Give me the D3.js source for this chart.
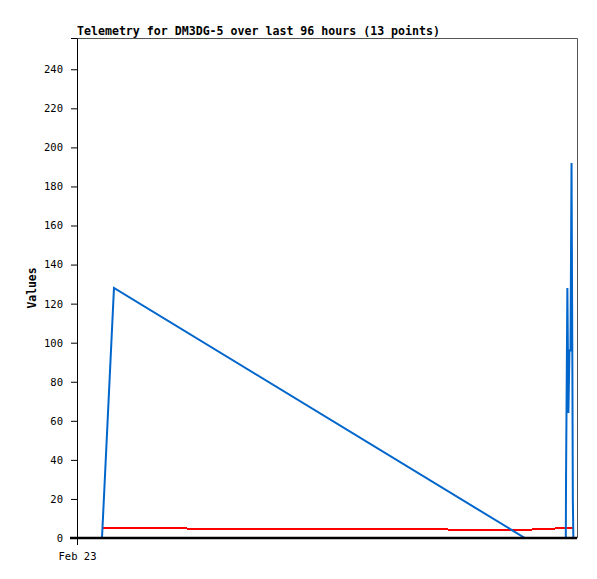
<!DOCTYPE html><html><head><meta charset="UTF-8"><script src="https://d3js.org/d3.v7.min.js"></script><style>
            body { margin: 0; background: #fff; }
            #chart { width: 597px; height: 579px; font-family: "DejaVu Sans Mono", monospace; }
            .title { font-size: 11.6px; font-weight: bold; }
            .axis text { font-family: "DejaVu Sans Mono", monospace; font-size: 10.5px; fill: #000; }
            .ylabel { font-size: 11.4px; font-weight: bold; }
            .red { shape-rendering: crispEdges; }
        </style></head><body><div id="chart"></div><script>
            // hours after Feb 23 00:00
            const hours = [4.8, 7.1, 86.0, 93.85, 93.9, 94.15, 94.35, 94.55, 94.75, 94.95, 95.1, 95.2, 95.3];
            const blueValues = [0, 128, 0, 0, 32, 128, 64, 96, 96, 192, 96, 20, 0];
            const redValues = [5.0, 5.0, 4.2, 5.1, 5.1, 5.1, 5.1, 5.1, 5.1, 5.1, 5.1, 5.1, 5.1];
            const yTicks = [0, 20, 40, 60, 80, 100, 120, 140, 160, 180, 200, 220, 240];
            const xTickLabels = ['Feb 23'];

            const start = new Date(2024, 1, 23, 0, 0);
            const times = hours.map(h => new Date(start.getTime() + h * 3600e3));

            const margin = {top: 38, right: 20, bottom: 41, left: 77};
            const width = 500;
            const height = 500;

            const svg = d3.select('#chart')
                .append('svg')
                .attr('width', 597)
                .attr('height', 579);

            const g = svg.append('g')
                .attr('transform', `translate(${margin.left},${margin.top})`);

            const x = d3.scaleTime()
                .domain([start, new Date(start.getTime() + 96 * 3600e3)])
                .range([0, width]);
            const y = d3.scaleLinear()
                .domain([0, 256])
                .range([height, 0]);

            // frame (top and right)
            g.append('path')
                .attr('d', `M0.5,0.5H${width + 0.5}V${height}`)
                .attr('fill', 'none')
                .attr('stroke', '#555')
                .attr('stroke-width', 1);

            svg.append('text')
                .attr('class', 'title')
                .attr('x', margin.left)
                .attr('y', 35)
                .text('Telemetry for DM3DG-5 over last 96 hours (13 points)');

            const line = vals => d3.line()
                .x((d, i) => x(times[i]))
                .y(d => y(d))(vals);

            g.append('path')
                .attr('class', 'red')
                .attr('d', line(redValues))
                .attr('fill', 'none')
                .attr('stroke', '#ff0000')
                .attr('stroke-width', 2);

            g.append('path')
                .attr('d', line(blueValues))
                .attr('fill', 'none')
                .attr('stroke', '#0066cc')
                .attr('stroke-width', 2);

            const yAxis = g.append('g')
                .attr('class', 'axis')
                .call(d3.axisLeft(y).tickValues(yTicks).tickSize(6).tickPadding(8));
            yAxis.select('.domain').attr('stroke', '#000');

            const xAxis = g.append('g')
                .attr('class', 'axis')
                .attr('transform', `translate(0,${height})`)
                .call(d3.axisBottom(x).tickValues([start]).tickFormat((d, i) => xTickLabels[i]).tickSize(7).tickPadding(8));
            xAxis.select('.domain')
                .attr('d', `M-7,0H${width}`)
                .attr('stroke', '#000')
                .attr('stroke-width', 2.5);

            svg.append('text')
                .attr('class', 'ylabel')
                .attr('transform', `translate(36,${margin.top + height / 2}) rotate(-90)`)
                .attr('text-anchor', 'middle')
                .text('Values');
        </script></body></html>
